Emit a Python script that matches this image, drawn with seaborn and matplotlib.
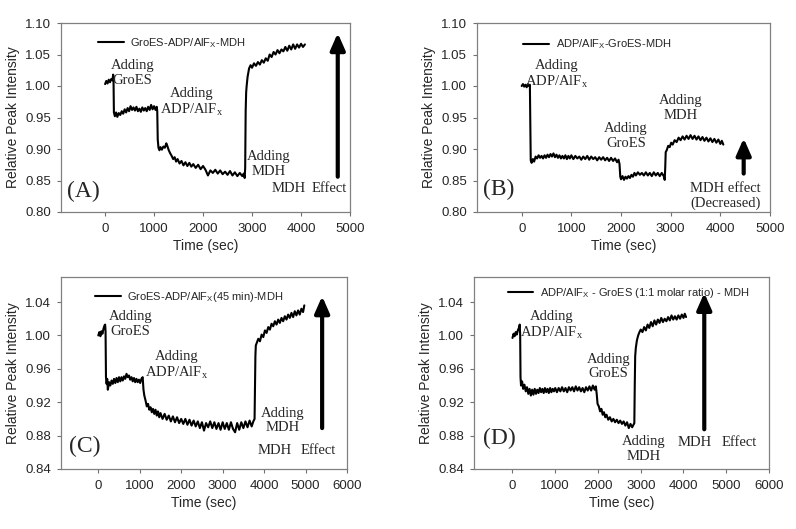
import numpy as np
import matplotlib

matplotlib.use('Agg')
import matplotlib.pyplot as plt
import seaborn as sns

# ---- data (time in s, relative peak intensity) ----
A_t = [0, 25, 50, 75, 100, 125, 150, 165, 172, 180, 200, 225, 250, 280, 310, 340, 370, 400, 430, 460,
       490, 520, 550, 580, 610, 640, 670, 700, 730, 760, 790, 820, 850, 880, 910, 940, 970, 1000, 1030,
       1055, 1065, 1075, 1090, 1110, 1130, 1160, 1190, 1220, 1250, 1270, 1300, 1330, 1360, 1390, 1420,
       1450, 1480, 1520, 1560, 1600, 1640, 1680, 1720, 1760, 1800, 1850, 1900, 1950, 2000, 2050, 2100,
       2150, 2200, 2250, 2300, 2350, 2400, 2450, 2500, 2550, 2600, 2650, 2700, 2750, 2800, 2830, 2850,
       2860, 2870, 2880, 2890, 2910, 2940, 2970, 3000, 3040, 3080, 3120, 3160, 3200, 3240, 3280, 3320,
       3360, 3400, 3440, 3480, 3520, 3560, 3600, 3640, 3680, 3720, 3760, 3800, 3840, 3880, 3920, 3960,
       4000, 4040, 4080]
A_v = [1.003, 1.008, 1.004, 1.010, 1.006, 1.011, 1.009, 1.018, 1.012, 0.958, 0.952, 0.958, 0.951, 0.957,
       0.954, 0.960, 0.956, 0.963, 0.958, 0.965, 0.960, 0.968, 0.962, 0.966, 0.961, 0.967, 0.960, 0.964,
       0.959, 0.966, 0.961, 0.965, 0.960, 0.967, 0.962, 0.970, 0.963, 0.968, 0.962, 0.967, 0.960, 0.915,
       0.902, 0.898, 0.903, 0.899, 0.904, 0.902, 0.909, 0.905, 0.898, 0.893, 0.889, 0.884, 0.887, 0.880,
       0.884, 0.877, 0.881, 0.874, 0.879, 0.873, 0.878, 0.872, 0.876, 0.870, 0.875, 0.868, 0.873, 0.867,
       0.858, 0.866, 0.862, 0.867, 0.861, 0.866, 0.860, 0.864, 0.859, 0.865, 0.858, 0.863, 0.857, 0.862,
       0.857, 0.861, 0.854, 0.870, 0.960, 0.990, 1.000, 1.015, 1.028, 1.033, 1.029, 1.036, 1.032, 1.038,
       1.034, 1.041, 1.037, 1.044, 1.040, 1.050, 1.046, 1.054, 1.050, 1.057, 1.052, 1.058, 1.055, 1.062,
       1.056, 1.064, 1.058, 1.066, 1.059, 1.066, 1.061, 1.067, 1.062, 1.066]

B_t = [0, 25, 50, 75, 100, 125, 150, 165, 175, 182, 200, 225, 250, 280, 310, 340, 370, 400, 430, 460,
       490, 520, 550, 580, 610, 640, 670, 700, 730, 760, 790, 820, 850, 880, 910, 940, 970, 1000, 1040,
       1080, 1120, 1160, 1200, 1240, 1280, 1320, 1360, 1400, 1440, 1480, 1520, 1560, 1600, 1640, 1680,
       1720, 1760, 1800, 1840, 1880, 1920, 1950, 1970, 1985, 2000, 2030, 2060, 2090, 2120, 2150, 2180,
       2210, 2240, 2270, 2300, 2340, 2380, 2420, 2460, 2500, 2540, 2580, 2620, 2660, 2700, 2740, 2780,
       2820, 2860, 2880, 2890, 2900, 2920, 2950, 2980, 3010, 3040, 3080, 3120, 3160, 3200, 3240, 3280,
       3320, 3360, 3400, 3440, 3480, 3520, 3560, 3600, 3640, 3680, 3720, 3760, 3800, 3840, 3880, 3920,
       3960, 4000, 4030, 4060]
B_v = [1.000, 1.003, 0.999, 1.002, 0.998, 1.003, 1.000, 1.002, 0.930, 0.882, 0.878, 0.884, 0.880, 0.888,
       0.885, 0.890, 0.886, 0.889, 0.885, 0.890, 0.886, 0.891, 0.887, 0.892, 0.888, 0.893, 0.887, 0.891,
       0.886, 0.890, 0.885, 0.889, 0.885, 0.890, 0.884, 0.889, 0.885, 0.890, 0.884, 0.889, 0.885, 0.888,
       0.883, 0.888, 0.884, 0.889, 0.883, 0.888, 0.884, 0.887, 0.882, 0.887, 0.883, 0.887, 0.882, 0.886,
       0.881, 0.886, 0.881, 0.885, 0.879, 0.883, 0.876, 0.856, 0.852, 0.857, 0.851, 0.856, 0.853, 0.857,
       0.854, 0.859, 0.856, 0.862, 0.858, 0.863, 0.859, 0.862, 0.858, 0.863, 0.858, 0.862, 0.857, 0.863,
       0.858, 0.862, 0.857, 0.862, 0.857, 0.851, 0.870, 0.895, 0.898, 0.905, 0.903, 0.910, 0.907, 0.914,
       0.911, 0.918, 0.914, 0.920, 0.915, 0.921, 0.916, 0.922, 0.916, 0.921, 0.915, 0.920, 0.914, 0.919,
       0.913, 0.918, 0.912, 0.917, 0.911, 0.916, 0.910, 0.915, 0.908, 0.913, 0.907]

C_t = [0, 25, 50, 75, 100, 125, 150, 165, 175, 185, 200, 215, 230, 260, 290, 320, 350, 380, 410, 440,
       470, 500, 530, 560, 590, 620, 650, 680, 710, 740, 770, 800, 830, 860, 890, 920, 950, 980, 1010,
       1040, 1070, 1090, 1110, 1140, 1170, 1200, 1230, 1260, 1290, 1320, 1350, 1380, 1410, 1440, 1470,
       1500, 1550, 1600, 1650, 1700, 1750, 1800, 1850, 1900, 1950, 2000, 2050, 2100, 2150, 2200, 2250,
       2300, 2350, 2400, 2450, 2500, 2550, 2600, 2650, 2700, 2750, 2800, 2850, 2900, 2950, 3000, 3050,
       3100, 3150, 3200, 3250, 3300, 3350, 3400, 3450, 3500, 3550, 3600, 3650, 3700, 3740, 3770, 3780,
       3790, 3800, 3830, 3860, 3900, 3940, 3980, 4020, 4060, 4100, 4140, 4180, 4220, 4260, 4300, 4340,
       4380, 4420, 4460, 4500, 4540, 4580, 4620, 4660, 4700, 4740, 4780, 4820, 4860, 4900, 4940, 4970]
C_v = [1.000, 1.004, 0.999, 1.005, 1.002, 1.008, 1.012, 1.013, 1.005, 0.950, 0.942, 0.948, 0.935, 0.944,
       0.940, 0.946, 0.942, 0.948, 0.943, 0.949, 0.944, 0.950, 0.945, 0.950, 0.946, 0.951, 0.948, 0.954,
       0.950, 0.952, 0.947, 0.950, 0.945, 0.949, 0.944, 0.948, 0.944, 0.947, 0.943, 0.948, 0.950, 0.935,
       0.928, 0.922, 0.915, 0.918, 0.911, 0.914, 0.908, 0.912, 0.906, 0.911, 0.904, 0.909, 0.902, 0.907,
       0.900, 0.906, 0.899, 0.904, 0.897, 0.903, 0.896, 0.902, 0.895, 0.900, 0.894, 0.900, 0.893, 0.899,
       0.892, 0.898, 0.891, 0.897, 0.889, 0.896, 0.886, 0.895, 0.890, 0.897, 0.889, 0.896, 0.888, 0.895,
       0.887, 0.896, 0.888, 0.895, 0.887, 0.896, 0.888, 0.884, 0.895, 0.887, 0.896, 0.889, 0.897, 0.890,
       0.898, 0.891, 0.897, 0.900, 0.940, 0.975, 0.988, 0.992, 0.996, 0.993, 1.001, 0.998, 1.006, 1.003,
       1.010, 1.007, 1.014, 1.011, 1.017, 1.013, 1.019, 1.015, 1.021, 1.017, 1.023, 1.019, 1.025, 1.021,
       1.027, 1.022, 1.029, 1.024, 1.030, 1.025, 1.032, 1.028, 1.036]

D_t = [0, 25, 50, 75, 100, 125, 150, 170, 180, 188, 200, 225, 250, 280, 310, 340, 370, 400, 430, 460,
       490, 520, 550, 580, 610, 640, 670, 700, 730, 760, 790, 820, 850, 880, 910, 940, 970, 1000, 1040,
       1080, 1120, 1160, 1200, 1240, 1280, 1320, 1360, 1400, 1440, 1480, 1520, 1560, 1600, 1640, 1680,
       1720, 1760, 1800, 1840, 1880, 1920, 1950, 1970, 1990, 2020, 2050, 2080, 2110, 2140, 2170, 2200,
       2240, 2280, 2320, 2360, 2400, 2440, 2480, 2520, 2560, 2600, 2640, 2680, 2720, 2760, 2800, 2830,
       2850, 2860, 2870, 2885, 2910, 2940, 2970, 3000, 3040, 3080, 3120, 3160, 3200, 3240, 3280, 3320,
       3360, 3400, 3440, 3480, 3520, 3560, 3600, 3640, 3680, 3720, 3760, 3800, 3840, 3880, 3920, 3960,
       4000, 4030, 4060]
D_v = [0.997, 1.002, 0.999, 1.004, 1.001, 1.006, 1.009, 1.013, 1.000, 0.950, 0.940, 0.945, 0.936, 0.941,
       0.933, 0.938, 0.930, 0.936, 0.928, 0.935, 0.929, 0.936, 0.930, 0.935, 0.931, 0.937, 0.932, 0.936,
       0.931, 0.937, 0.932, 0.936, 0.931, 0.937, 0.932, 0.936, 0.933, 0.937, 0.932, 0.937, 0.933, 0.938,
       0.933, 0.937, 0.932, 0.938, 0.934, 0.938, 0.933, 0.939, 0.934, 0.938, 0.933, 0.937, 0.932, 0.938,
       0.934, 0.939, 0.934, 0.940, 0.935, 0.939, 0.930, 0.918, 0.915, 0.909, 0.912, 0.905, 0.908, 0.902,
       0.905, 0.899, 0.902, 0.897, 0.900, 0.896, 0.899, 0.895, 0.898, 0.894, 0.897, 0.892, 0.896, 0.889,
       0.894, 0.890, 0.893, 0.895, 0.940, 0.975, 0.985, 0.994, 1.000, 1.004, 1.007, 1.004, 1.010, 1.006,
       1.013, 1.009, 1.016, 1.011, 1.018, 1.013, 1.019, 1.015, 1.021, 1.016, 1.020, 1.017, 1.022, 1.018,
       1.024, 1.019, 1.023, 1.019, 1.024, 1.020, 1.025, 1.021, 1.026, 1.022]

legend_labels = ['GroES-ADP/AlF$_X$-MDH',
                 'ADP/AlF$_X$-GroES-MDH',
                 'GroES-ADP/AlF$_X$(45 min)-MDH',
                 'ADP/AlF$_X$ - GroES (1:1 molar ratio) - MDH']
panel_tags = ['(A)', '(B)', '(C)', '(D)']

sns.set_style('white')
plt.rcParams['font.family'] = ['Liberation Sans', 'DejaVu Sans']
plt.rcParams['mathtext.default'] = 'regular'

W, H = 796, 529
fig = plt.figure(figsize=(W / 100, H / 100), dpi=100)


def box(l, t, r, b):
    return [l / W, 1 - b / H, (r - l) / W, (b - t) / H]


axes = [fig.add_axes(box(61, 23, 350, 212)),
        fig.add_axes(box(477, 23, 770, 212)),
        fig.add_axes(box(61, 277, 347, 469)),
        fig.add_axes(box(474, 277, 769, 469))]

series = [(A_t, A_v), (B_t, B_v), (C_t, C_v), (D_t, D_v)]
xmax = [5000, 5000, 6000, 6000]
yrng = [(0.80, 1.10, 0.05), (0.80, 1.10, 0.05), (0.84, 1.07, 0.04), (0.84, 1.07, 0.04)]
leg_anchor = [(0.128, 0.894), (0.158, 0.887), (0.119, 0.897), (0.114, 0.915)]

serif = dict(family='Liberation Serif', fontsize=10.5, ha='center', va='center')

for i, ax in enumerate(axes):
    t, v = series[i]
    sns.lineplot(x=t, y=v, ax=ax, color='k', lw=1.5, sort=False, estimator=None,
                 label=legend_labels[i])
    ax.set_xlim(-900, xmax[i])
    lo, hi, step = yrng[i]
    ax.set_ylim(lo, hi)
    ax.set_xticks(np.arange(0, xmax[i] + 1, 1000))
    ax.set_yticks(np.arange(lo, 1.041 if hi < 1.1 else 1.101, step))
    ax.yaxis.set_major_formatter(matplotlib.ticker.FormatStrFormatter('%.2f'))
    ax.tick_params(axis='both', direction='out', length=3, width=0.8, color='#707070',
                   labelsize=9.5, pad=4, left=True, bottom=True)
    ax.tick_params(axis='x', pad=5)
    for s in ax.spines.values():
        s.set_color('#808080')
        s.set_linewidth(0.9)
    ax.set_xlabel('Time (sec)', fontsize=10, labelpad=3)
    ax.set_ylabel('Relative Peak Intensity', fontsize=10, labelpad=4)
    ax.legend(loc='center left', bbox_to_anchor=leg_anchor[i], frameon=False, fontsize=8,
              borderpad=0, borderaxespad=0, handlelength=2.3, handletextpad=0.6)

axA, axB, axC, axD = axes
arrow = dict(arrowstyle='-|>,head_width=0.22,head_length=0.5', lw=3, color='k',
             shrinkA=0, shrinkB=0, mutation_scale=20)

# panel A
axA.text(560, 1.021, 'Adding\nGroES', linespacing=1.15, **serif)
axA.text(1760, 0.974, 'Adding\nADP/AlF$_x$', linespacing=1.15, **serif)
axA.text(3335, 0.876, 'Adding\nMDH', linespacing=1.15, **serif)
axA.text(3750, 0.837, 'MDH', **serif)
axA.text(4570, 0.837, 'Effect', **serif)
axA.annotate('', xy=(4750, 1.084), xytext=(4750, 0.856), arrowprops=arrow)
axA.text(-445, 0.832, panel_tags[0], family='Liberation Serif', fontsize=17, ha='center', va='center')

# panel B
axB.text(700, 1.018, 'Adding\nADP/AlF$_x$', linespacing=1.15, **serif)
axB.text(2100, 0.921, 'Adding\nGroES', linespacing=1.15, **serif)
axB.text(3200, 0.965, 'Adding\nMDH', linespacing=1.15, **serif)
axB.text(4100, 0.826, 'MDH effect\n(Decreased)', linespacing=1.15, **serif)
axB.annotate('', xy=(4470, 0.917), xytext=(4470, 0.861), arrowprops=arrow)
axB.text(-467, 0.835, panel_tags[1], family='Liberation Serif', fontsize=17, ha='center', va='center')

# panel C
axC.text(776, 1.0136, 'Adding\nGroES', linespacing=1.15, **serif)
axC.text(1880, 0.964, 'Adding\nADP/AlF$_x$', linespacing=1.15, **serif)
axC.text(4456, 0.898, 'Adding\nMDH', linespacing=1.15, **serif)
axC.text(4256, 0.862, 'MDH', **serif)
axC.text(5296, 0.862, 'Effect', **serif)
axC.annotate('', xy=(5400, 1.047), xytext=(5400, 0.889), arrowprops=arrow)
axC.text(-320, 0.867, panel_tags[2], family='Liberation Serif', fontsize=17, ha='center', va='center')

# panel D
axD.text(918, 1.0124, 'Adding\nADP/AlF$_x$', linespacing=1.15, **serif)
axD.text(2250, 0.963, 'Adding\nGroES', linespacing=1.15, **serif)
axD.text(3075, 0.864, 'Adding\nMDH', linespacing=1.15, **serif)
axD.text(4250, 0.8713, 'MDH', **serif)
axD.text(5310, 0.8713, 'Effect', **serif)
axD.annotate('', xy=(4486, 1.051), xytext=(4486, 0.8876), arrowprops=arrow)
axD.text(-298, 0.8765, panel_tags[3], family='Liberation Serif', fontsize=17, ha='center', va='center')

fig.savefig('out.png', dpi=100)
